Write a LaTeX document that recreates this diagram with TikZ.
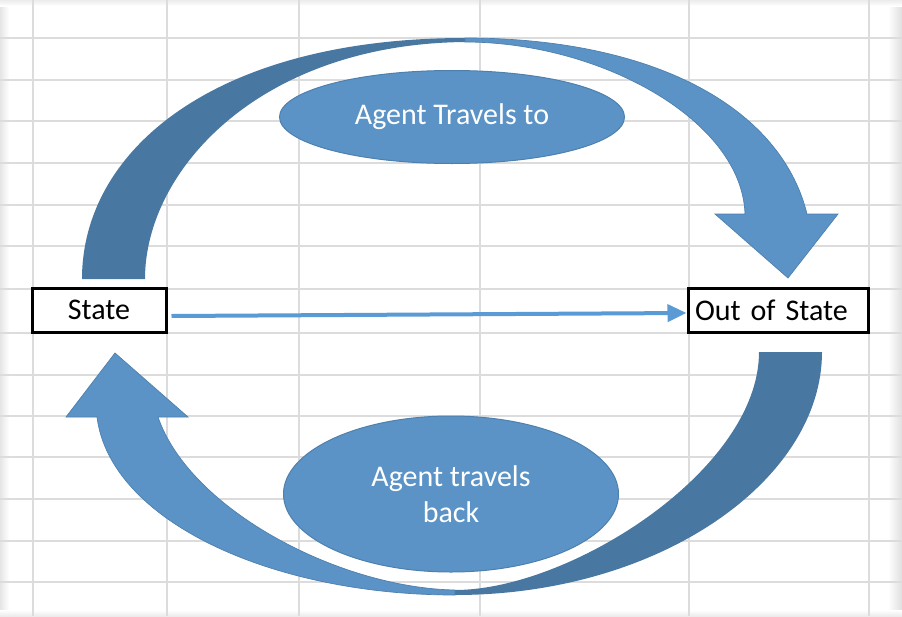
\documentclass[tikz,border=0pt]{standalone}
\usepackage{fontspec}
\setmainfont{Carlito}
\usetikzlibrary{shapes.geometric,arrows.meta}
\definecolor{lblue}{HTML}{5B93C6}
\definecolor{dblue}{HTML}{4878A1}
\definecolor{eblue}{HTML}{4E80AE}
\definecolor{ablue}{HTML}{5B9BD5}
\definecolor{gridc}{HTML}{DCDCDC}
\begin{document}
\begin{tikzpicture}[x=1pt,y=-1pt,
  gridline/.style={draw=gridc, line width=2pt},
  darkpart/.style={fill=dblue},
  lightpart/.style={fill=lblue, draw=eblue, line width=0.7pt},
  statebox/.style={draw=black, line width=3pt, fill=white, minimum height=44pt,
    font=\fontsize{30}{36}\selectfont, inner sep=0pt},
  bubble/.style={ellipse, fill=lblue, draw=eblue, line width=1pt, text=white,
    font=\fontsize{30}{36}\selectfont, align=center, inner sep=0pt},
  flow/.style={draw=ablue, line width=4pt, -{Triangle[length=19pt,width=17pt]}}]
\useasboundingbox (0,0) rectangle (902,616);
\fill[white] (0,0) rectangle (902,616);
% screenshot edge shading
\shade[left color=gray!20, right color=white] (0,0) rectangle (9,616);
\shade[left color=white, right color=gray!25] (888,0) rectangle (902,616);
\shade[top color=gray!15, bottom color=white] (0,0) rectangle (902,6);
\shade[top color=white, bottom color=gray!15] (0,610) rectangle (902,616);
% spreadsheet grid
\foreach \gx in {33,167,299,480,689,869}
  \draw[gridline] (\gx,0) -- (\gx,616);
\foreach \gy in {38,80,121,163,205,246,289,333,375,416,457,499,541,582}
  \draw[gridline] (0,\gy) -- (902,\gy);
% top curved arrow
\fill[darkpart] (82,279) .. controls (82,150) and (215,38) .. (465,38)
  -- (465,42) .. controls (260,44) and (145,170) .. (145,279) -- cycle;
\path[lightpart] (465,38) .. controls (650,38) and (780,105) .. (807,214)
  -- (838,214) -- (788,278) -- (715,214) -- (745,214)
  .. controls (742,120) and (600,42) .. (465,42) -- cycle;
% bottom curved arrow
\fill[darkpart] (822,352) .. controls (822,480) and (660,595) .. (455,595)
  -- (455,590) .. controls (570,590) and (759,470) .. (759,352) -- cycle;
\path[lightpart] (455,595) .. controls (270,595) and (110,520) .. (97,417)
  -- (66,417) -- (115,353) -- (188,417) -- (158,417)
  .. controls (190,510) and (340,588) .. (455,590) -- cycle;
% ellipses
\node[bubble, minimum width=345pt, minimum height=93pt] (to) at (452,117) {Agent Travels to};
\node[bubble, minimum width=335pt, minimum height=156pt] (back) at (451,494) {Agent travels\\back};
% boxes
\node[statebox, minimum width=134pt] (state) at (99,310) {State};
\node[statebox, minimum width=180pt, text width=166pt, align=left] (oos) at (778,310) {Out of State};
% straight arrow
\draw[flow] ([xshift=4pt,yshift=-6pt]state.east) -- ([yshift=-3pt]oos.west);
\end{tikzpicture}
\end{document}
